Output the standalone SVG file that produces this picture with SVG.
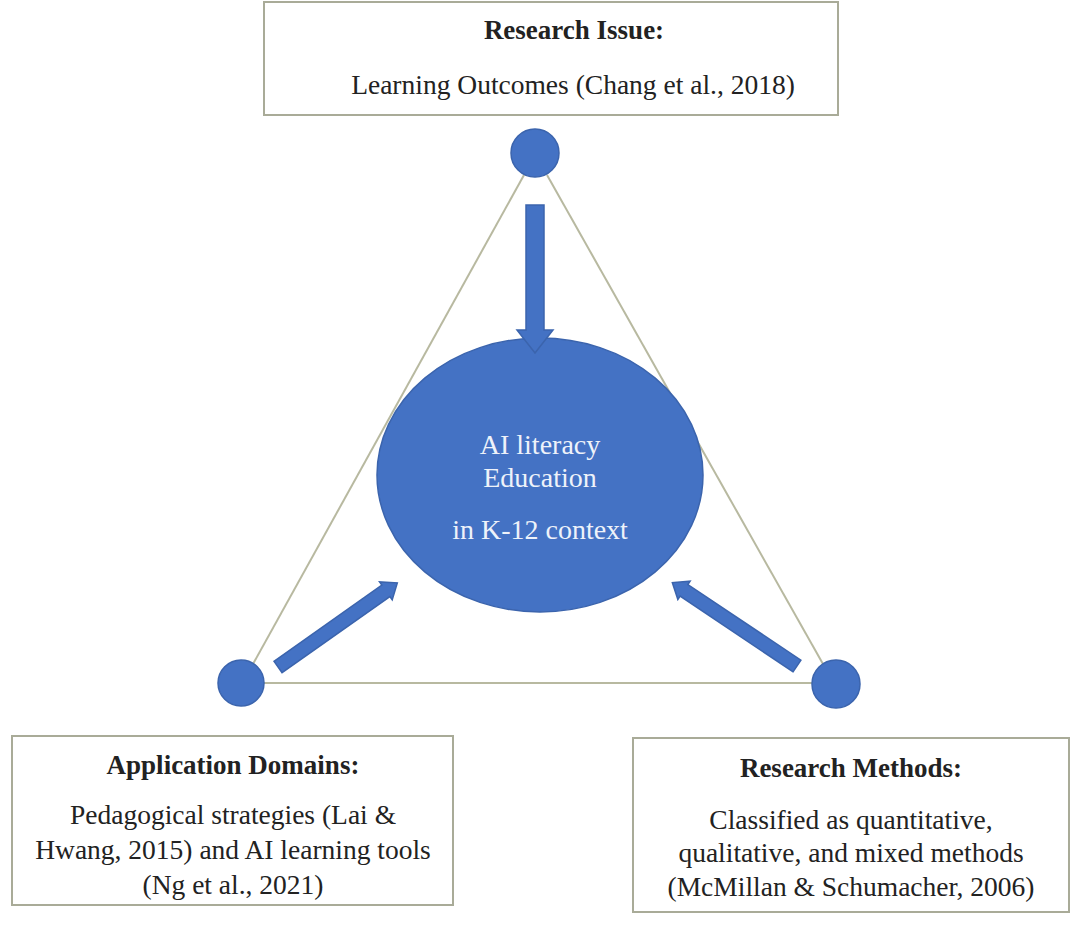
<svg xmlns="http://www.w3.org/2000/svg" width="1080" height="933" viewBox="0 0 1080 933">
<style>
.box{fill:#fff;stroke:#a9ab98;stroke-width:2}
.dot{fill:#4472c4;stroke:#3b64ad;stroke-width:1.5}
.arr{fill:#4472c4;stroke:#3b64ad;stroke-width:1.5}
.edge{stroke:#b8b9a0;stroke-width:2;fill:none}
text{font-family:"Liberation Serif","Times New Roman",serif;font-size:27.5px;fill:#222;text-anchor:middle}
.t{font-weight:bold;font-size:27px}
.w{fill:#eef2fa;font-size:28px}
</style>
<rect width="1080" height="933" fill="#fff"/>
<g id="edges">
<line class="edge" x1="524" y1="175" x2="253" y2="664"/>
<line class="edge" x1="547" y1="175" x2="823" y2="664"/>
<line class="edge" x1="264" y1="683" x2="812" y2="683"/>
</g>
<g id="research-issue">
<rect class="box" x="264" y="2" width="574" height="113"/>
<text class="t" x="574" y="39">Research Issue:</text>
<text x="573" y="94">Learning Outcomes (Chang et al., 2018)</text>
</g>
<g id="center">
<ellipse class="dot" cx="540" cy="475" rx="163" ry="137"/>
<text class="w" x="540" y="454">AI literacy</text>
<text class="w" x="540" y="487">Education</text>
<text class="w" x="540" y="539">in K-12 context</text>
</g>
<g id="dot-top"><circle class="dot" cx="535" cy="153" r="24"/></g>
<g id="dot-left"><circle class="dot" cx="241" cy="683" r="23"/></g>
<g id="dot-right"><circle class="dot" cx="836" cy="684" r="24"/></g>
<g id="connectors">
<polygon class="arr" points="526,205 544,205 544,330 553,330 535,353 517,330 526,330"/>
<polygon class="arr" transform="translate(278,667) rotate(-35.2)" points="0,-7 132,-7 132,-11 146,0 132,11 132,7 0,7"/>
<polygon class="arr" transform="translate(797,666) rotate(-146.2)" points="0,-7 136,-7 136,-11 150,0 136,11 136,7 0,7"/>
</g>
<g id="application-domains">
<rect class="box" x="12" y="736" width="441" height="169"/>
<text class="t" x="233" y="774">Application Domains:</text>
<text x="233" y="824">Pedagogical strategies (Lai &amp;</text>
<text x="233" y="859">Hwang, 2015) and AI learning tools</text>
<text x="233" y="894">(Ng et al., 2021)</text>
</g>
<g id="research-methods">
<rect class="box" x="633" y="738" width="436" height="174"/>
<text class="t" x="851" y="777">Research Methods:</text>
<text x="851" y="829">Classified as quantitative,</text>
<text x="851" y="862">qualitative, and mixed methods</text>
<text x="851" y="896">(McMillan &amp; Schumacher, 2006)</text>
</g>
</svg>
